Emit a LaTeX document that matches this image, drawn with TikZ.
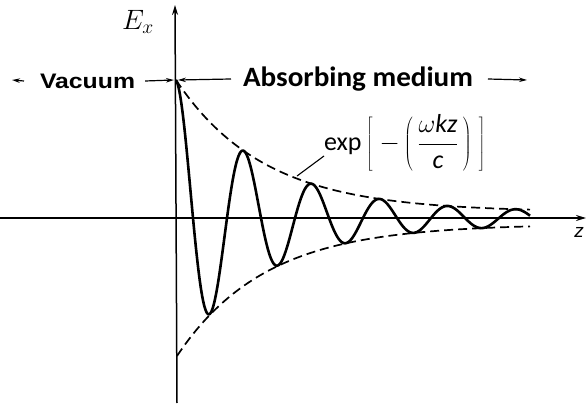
\RequirePackage{fix-cm}
\documentclass[tikz,border=0pt]{standalone}
\usepackage{fontspec}
\setsansfont{Carlito}
\newfontfamily\arialf{Liberation Sans}
\usetikzlibrary{arrows.meta}
\begin{document}
\begin{tikzpicture}[x=1pt,y=-1pt,
  axisline/.style={line width=1.5pt,-{Stealth[length=10pt,width=6pt]}},
  regarrow/.style={line width=1.2pt,-{Stealth[length=8pt,width=4.5pt]}},
  envelope/.style={line width=1.7pt,dash pattern=on 9pt off 5pt},
  wave/.style={line width=2.6pt,line join=round},
  lbl/.style={inner sep=0pt,outer sep=0pt}]
\useasboundingbox (0,0) rectangle (587,409);
% axes
\coordinate (ybot) at (177,403);
\coordinate (ytop) at (175,5);
\coordinate (xleft) at (0,218);
\coordinate (xright) at (586,218);
\draw[axisline] (ybot) -- (ytop);
\draw[axisline] (xleft) -- (xright);
\node[lbl,font=\fontsize{28}{30}\selectfont] (ex) at (138,22) {$E_x$};
\node[lbl,font=\arialf\itshape\fontsize{19}{21}\selectfont] (zl) at (579,232) {z};
% envelopes
\draw[envelope] plot[domain=0:354,samples=120] ({176+\x},{218-(6+132*exp(-\x/88))});
\draw[envelope] plot[domain=0:353,samples=120] ({177+\x},{218+(6+132*exp(-\x/88))});
% wave
\draw[wave] plot[domain=0:354,samples=500] ({176+\x},{218-(6+132*exp(-\x/88))*cos(5.2941*\x)});
% region labels
\node[lbl,font=\arialf\bfseries\fontsize{21}{23}\selectfont,anchor=west] (vac) at (40,81) {\scalebox{1.18}[1]{Vacuum}};
\node[lbl,font=\sffamily\bfseries\fontsize{28}{30}\selectfont,anchor=west] (abs) at (243,79) {\scalebox{1.04}[1]{Absorbing medium}};
\coordinate (vl) at (12,80);
\coordinate (vr) at (174,80);
\coordinate (al) at (178,80);
\coordinate (ar) at (527,80);
\draw[regarrow] (vac.west) ++(-16,0) -- (vl);
\draw[regarrow] (vac.east) ++(10,0) -- (vr);
\draw[regarrow] (abs.west) ++(-12,0) -- (al);
\draw[regarrow] (abs.east) ++(15,0) -- (ar);
% exp label
\node[lbl,font=\sffamily\fontsize{26}{28}\selectfont,anchor=west] (expl) at (324,143)
  {exp$\displaystyle\,\left[\;-\left(\,\frac{\omega\textit{kz}}{\textit{c}}\,\right)\;\right]$};
\coordinate (envpt) at (297,176);
\draw[line width=1.1pt] (expl.west) ++(0,13) -- (envpt);
\end{tikzpicture}
\end{document}
